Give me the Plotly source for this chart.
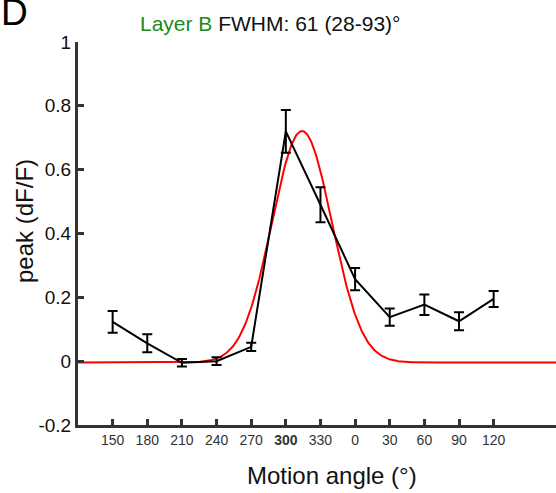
import numpy as np
import plotly.graph_objects as go

# Motion angle positions (unwrapped so the axis runs 150 ... 330, 0 ... 120)
angles = [150, 180, 210, 240, 270, 300, 330, 360, 390, 420, 450, 480]
tick_labels = ['150', '180', '210', '240', '270', '<b>300</b>', '330', '0', '30', '60', '90', '120']
peak = [0.123, 0.056, -0.005, 0.0, 0.045, 0.72, 0.49, 0.257, 0.138, 0.177, 0.125, 0.195]
sem = [0.034, 0.028, 0.012, 0.012, 0.013, 0.067, 0.055, 0.035, 0.027, 0.032, 0.028, 0.025]

# Gaussian fit parameters
fit_center = 314
fit_fwhm = 61
fit_amp = 0.725
fit_base = -0.004

y_ticks = [-0.2, 0, 0.2, 0.4, 0.6, 0.8, 1]
y_tick_text = ['-0.2', '0', '0.2', '0.4', '0.6', '0.8', '1']

FONT = "Liberation Sans, Arial, sans-serif"

sigma = fit_fwhm / (2 * np.sqrt(2 * np.log(2)))
xf = np.linspace(120, 545, 600)
yf = fit_base + fit_amp * np.exp(-(xf - fit_center) ** 2 / (2 * sigma ** 2))

fig = go.Figure()
fig.add_trace(go.Scatter(x=xf, y=yf, mode='lines',
                         line=dict(color='#ff0000', width=2), hoverinfo='skip'))
fig.add_trace(go.Scatter(x=angles, y=peak, mode='lines',
                         line=dict(color='#000000', width=2),
                         error_y=dict(type='data', array=sem, color='#000000',
                                      thickness=2, width=5)))

W, H = 556, 493
ml, mr, mt, mb = 78, 0, 42, 68
fig.update_layout(
    width=W, height=H,
    margin=dict(l=ml, r=mr, t=mt, b=mb, autoexpand=False),
    paper_bgcolor='white', plot_bgcolor='white',
    showlegend=False,
    font=dict(family=FONT, color='#111'),
    xaxis=dict(range=[120, 534], tickvals=angles, ticktext=tick_labels,
               showline=True, linecolor='#333', linewidth=3,
               ticks='inside', ticklen=6, tickwidth=2.5, tickcolor='#333',
               tickfont=dict(size=14, color='#333'),
               showgrid=False, zeroline=False, automargin=False),
    yaxis=dict(range=[-0.2, 1], tickvals=y_ticks, ticktext=y_tick_text,
               showline=True, linecolor='#333', linewidth=3,
               ticks='inside', ticklen=6, tickwidth=2.5, tickcolor='#333',
               tickfont=dict(size=19, color='#111'),
               showgrid=False, zeroline=False, automargin=False),
)

PW, PH = W - ml - mr, H - mt - mb

fig.add_annotation(text='<span style="color:#1a8a1a">Layer B</span> FWHM: 61 (28-93)°',
                   xref='paper', yref='paper', x=(270 - ml) / PW,
                   y=1 + (mt - 23) / PH, xanchor='center', yanchor='middle',
                   showarrow=False, font=dict(size=21, color='#111'))
fig.add_annotation(text='D', xref='paper', yref='paper',
                   x=(-1 - ml) / PW, y=1 + (mt - 13) / PH,
                   xanchor='left', yanchor='middle', showarrow=False,
                   font=dict(size=37, color='#000'))
fig.add_annotation(text='Motion angle (°)', xref='paper', yref='paper',
                   x=(332 - ml) / PW, y=-(475 - (H - mb)) / PH,
                   xanchor='center', yanchor='middle', showarrow=False,
                   font=dict(size=24, color='#111'))
fig.add_annotation(text='peak (dF/F)', xref='paper', yref='paper', textangle=-90,
                   x=(24 - ml) / PW, y=1 - (221 - mt) / PH,
                   xanchor='center', yanchor='middle', showarrow=False,
                   font=dict(size=24, color='#111'))

fig.write_html("out.html", config={'displayModeBar': False},
               post_script="document.body.style.margin='0';document.body.style.overflow='hidden';")
